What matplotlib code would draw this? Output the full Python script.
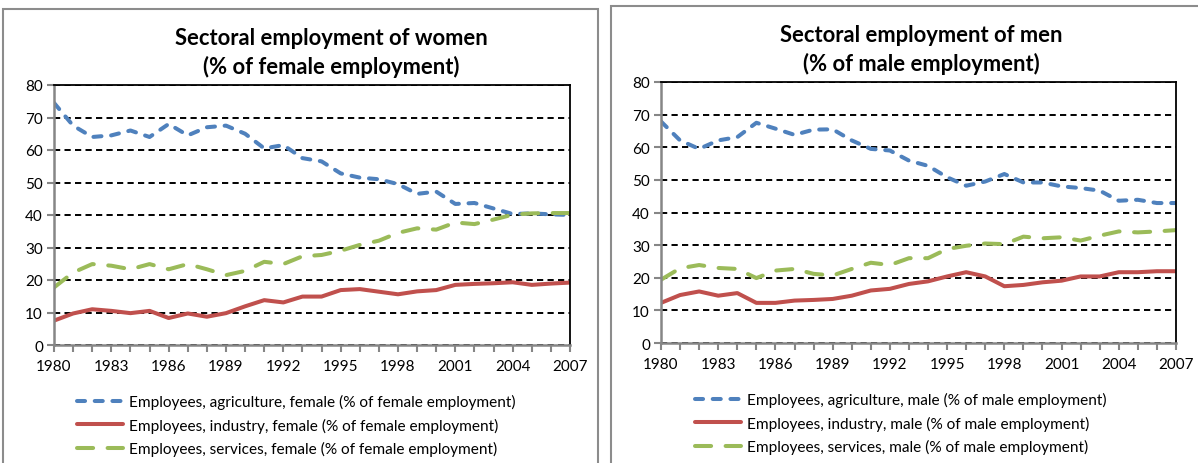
import numpy as np
import matplotlib.pyplot as plt
from matplotlib.patches import Rectangle
from matplotlib.ticker import MultipleLocator

years = list(range(1980, 2008))

women_agri = [74.5, 67.5, 64, 64.5, 66, 64, 68, 64.5, 67, 67.5, 65, 60.5, 61.5, 57.5,
              56.5, 52.8, 51.5, 51, 49.5, 46.5, 47.2, 43.4, 43.7, 42, 40.3, 40.5, 40.2, 40]
women_ind = [7.5, 9.7, 11, 10.5, 9.8, 10.5, 8.3, 9.7, 8.7, 9.8, 11.9, 13.8, 13.1, 14.9,
             14.9, 16.9, 17.2, 16.4, 15.6, 16.5, 16.9, 18.5, 18.8, 19, 19.3, 18.5, 18.9, 19.2]
women_serv = [17.7, 22.3, 24.9, 24.4, 23.3, 24.9, 23.3, 24.9, 23.3, 21.5, 22.8, 25.6, 24.9, 27.3,
              27.7, 29, 30.8, 32.1, 34.5, 35.9, 35.5, 37.7, 37.2, 38.6, 40.1, 40.5, 40.6, 40.6]

men_agri = [67.9, 62.1, 59.5, 62.1, 63.1, 67.5, 65.7, 63.8, 65.4, 65.5, 62.1, 59.5, 59, 55.9,
            54.3, 50.8, 48.2, 49.5, 51.8, 49.2, 49.2, 48, 47.5, 46.7, 43.6, 43.9, 42.9, 42.9]
men_ind = [12.3, 14.7, 15.8, 14.5, 15.3, 12.3, 12.3, 13, 13.2, 13.5, 14.5, 16.1, 16.6, 18.1,
           18.9, 20.4, 21.7, 20.4, 17.4, 17.8, 18.6, 19.1, 20.4, 20.4, 21.7, 21.7, 22, 22]
men_serv = [19.4, 22.9, 23.9, 23, 22.7, 19.9, 22.2, 22.7, 21.2, 20.7, 22.7, 24.6, 23.9, 26,
            26, 28.8, 29.8, 30.5, 30.3, 32.6, 32.1, 32.4, 31.4, 32.9, 34.2, 33.9, 34.2, 34.6]

labels_w = ['Employees, agriculture, female (% of female employment)',
            'Employees, industry, female (% of female employment)',
            'Employees, services, female (% of female employment)']
labels_m = ['Employees, agriculture, male (% of male employment)',
            'Employees, industry, male (% of male employment)',
            'Employees, services, male (% of male employment)']

plt.rcParams['font.family'] = ['Lato', 'DejaVu Sans']

W, H = 1198, 464
fig = plt.figure(figsize=(W / 100, H / 100), dpi=100)

# panel frames
fig.patches.append(Rectangle((3 / W, -0.1), 595 / W, 1.1 - 10 / H, transform=fig.transFigure,
                             fill=False, edgecolor='#8c8c8c', lw=1.5))
fig.patches.append(Rectangle((611 / W, -0.1), 600 / W, 1.1 - 7 / H, transform=fig.transFigure,
                             fill=False, edgecolor='#8c8c8c', lw=1.5))


def panel(rect, agri, ind, serv, labels, title, tx, ty, leg_xy):
    ax = fig.add_axes(rect)
    ax.plot(years, agri, color='#4F81BD', lw=2.9, dashes=(2.0, 2.4),
            dash_capstyle='round', label=labels[0])
    ax.plot(years, ind, color='#C0504D', lw=2.9, solid_capstyle='round', label=labels[1])
    ax.plot(years, serv, color='#9BBB59', lw=2.9, dashes=(4.0, 3.6),
            dash_capstyle='round', label=labels[2])
    ax.set_xlim(1980, 2007)
    ax.set_ylim(0, 80)
    ax.set_xticks(range(1980, 2008, 3))
    ax.xaxis.set_minor_locator(MultipleLocator(1))
    ax.set_yticks(range(0, 81, 10))
    ax.yaxis.grid(True, color='black', lw=1.4, ls=(0, (3.2, 2.2)))
    ax.set_axisbelow(True)
    for s in ['left', 'bottom']:
        ax.spines[s].set_color('#868686')
        ax.spines[s].set_linewidth(1.8)
    for s in ['top', 'right']:
        ax.spines[s].set_color('black')
        ax.spines[s].set_linewidth(1.3)
    ax.tick_params(which='both', direction='out', length=5, width=1.5, color='#868686',
                   labelsize=11, pad=3)
    ax.tick_params(axis='x', which='major', pad=5)
    fig.text(tx, ty, title, ha='center', va='center', fontsize=15.8, fontweight='bold',
             linespacing=1.35)
    ax.legend(loc='upper left', bbox_to_anchor=leg_xy, bbox_transform=fig.transFigure,
              frameon=False, fontsize=11.1, handlelength=3.0, handletextpad=0.35,
              labelspacing=0.55, borderpad=0, borderaxespad=0)
    return ax


panel([54 / W, 1 - 346 / H, 516 / W, 260 / H], women_agri, women_ind, women_serv, labels_w,
      'Sectoral employment of women\n(% of female employment)', 331 / W, 1 - 53 / H,
      (77 / W, 1 - 395 / H))
panel([661 / W, 1 - 344 / H, 515 / W, 261 / H], men_agri, men_ind, men_serv, labels_m,
      'Sectoral employment of men\n(% of male employment)', 921 / W, 1 - 50 / H,
      (695 / W, 1 - 393 / H))

plt.savefig('out.png', dpi=100)
